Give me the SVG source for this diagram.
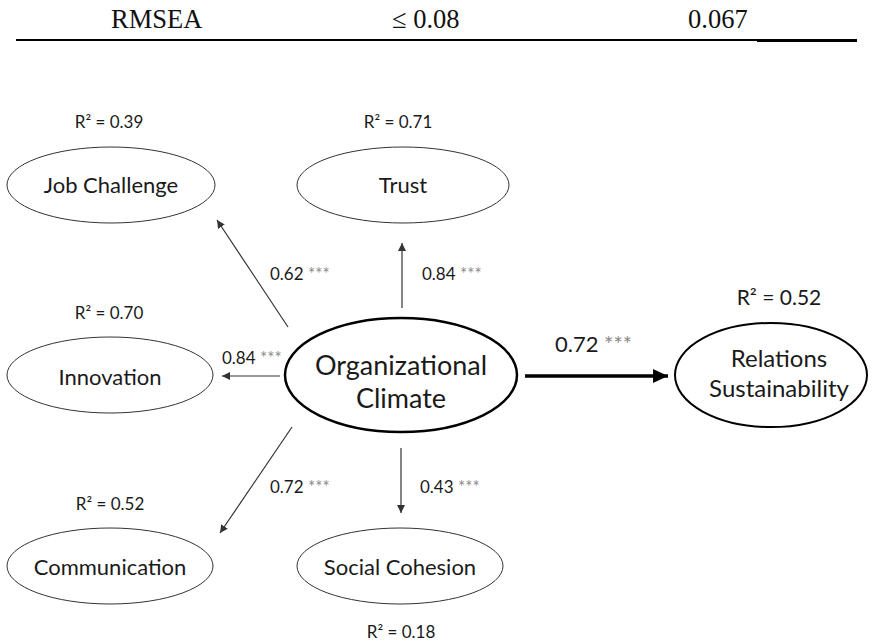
<svg xmlns="http://www.w3.org/2000/svg" width="873" height="644" viewBox="0 0 873 644">
<defs>
<style>
.tbl{font-family:"Liberation Serif","Times New Roman",serif;font-size:26.5px;fill:#111}
.lbl{font-family:Lato,"Open Sans",sans-serif;fill:#1a1a1a;text-anchor:middle}
.nd{font-size:22px}
.big{font-size:27px}
.r2{font-family:Lato,"Open Sans",sans-serif;font-size:17px;fill:#1a1a1a;text-anchor:middle}
.cf{font-family:Lato,"Open Sans",sans-serif;font-size:17px;fill:#1a1a1a}
.st{fill:#8a8a8a}
.thin{fill:#fff;stroke:#333;stroke-width:1}
.bold{fill:#fff;stroke:#000;stroke-width:2.5}
.ar{stroke:#333;stroke-width:1.2;fill:none;marker-end:url(#ah)}
</style>
<marker id="ah" markerUnits="userSpaceOnUse" markerWidth="10" markerHeight="8" refX="8" refY="4" orient="auto">
<path d="M0,0 L8,4 L0,8 Z" fill="#333"/>
</marker>
<marker id="ahb" markerUnits="userSpaceOnUse" markerWidth="16" markerHeight="14" refX="15" refY="7" orient="auto">
<path d="M0,0 L15,7 L0,14 Z" fill="#000"/>
</marker>
</defs>
<rect width="873" height="644" fill="#fff"/>
<g id="table">
<text class="tbl" x="111" y="28">RMSEA</text>
<text class="tbl" x="392" y="28">≤ 0.08</text>
<text class="tbl" x="688" y="28">0.067</text>
<line x1="16" y1="40" x2="857" y2="40" stroke="#000" stroke-width="1.8"/>
<line x1="757" y1="40.5" x2="857" y2="40.5" stroke="#000" stroke-width="3"/>
</g>
<g id="connectors">
<line class="ar" x1="288" y1="327" x2="217" y2="220"/>
<line class="ar" x1="402" y1="308" x2="402" y2="243"/>
<line class="ar" x1="280" y1="376" x2="222" y2="376"/>
<line class="ar" x1="292" y1="427" x2="220" y2="533"/>
<line class="ar" x1="401" y1="448" x2="401" y2="513"/>
<line x1="525" y1="376" x2="668" y2="376" stroke="#000" stroke-width="3.5" marker-end="url(#ahb)"/>
<text class="cf" x="270" y="280">0.62 <tspan class="st">***</tspan></text>
<text class="cf" x="422" y="280">0.84 <tspan class="st">***</tspan></text>
<text class="cf" x="222" y="364">0.84 <tspan class="st">***</tspan></text>
<text class="cf" x="270" y="493">0.72 <tspan class="st">***</tspan></text>
<text class="cf" x="420" y="493">0.43 <tspan class="st">***</tspan></text>
<text class="cf" x="555" y="352" style="font-size:22px">0.72 <tspan class="st">***</tspan></text>
</g>
<g id="job-challenge">
<text class="r2" x="109" y="128">R² = 0.39</text>
<ellipse class="thin" cx="111" cy="185" rx="104" ry="38"/>
<text class="lbl nd" x="111" y="193">Job Challenge</text>
</g>
<g id="trust">
<text class="r2" x="398" y="128">R² = 0.71</text>
<ellipse class="thin" cx="403" cy="185" rx="106" ry="38"/>
<text class="lbl nd" x="403" y="193">Trust</text>
</g>
<g id="innovation">
<text class="r2" x="109" y="319">R² = 0.70</text>
<ellipse class="thin" cx="110" cy="375" rx="103" ry="38"/>
<text class="lbl nd" x="110" y="385">Innovation</text>
</g>
<g id="organizational-climate">
<ellipse class="bold" cx="401" cy="375" rx="116" ry="57"/>
<text class="lbl big" x="401" y="375">Organizational</text>
<text class="lbl big" x="401" y="408">Climate</text>
</g>
<g id="relations-sustainability">
<text class="r2" x="779" y="305" style="font-size:21px">R² = 0.52</text>
<ellipse fill="#fff" stroke="#000" stroke-width="2" cx="771" cy="375" rx="96" ry="52"/>
<text class="lbl" x="779" y="367" style="font-size:24px">Relations</text>
<text class="lbl" x="779" y="397" style="font-size:24px">Sustainability</text>
</g>
<g id="communication">
<text class="r2" x="110" y="510">R² = 0.52</text>
<ellipse class="thin" cx="110" cy="566" rx="103" ry="38"/>
<text class="lbl nd" x="110" y="575">Communication</text>
</g>
<g id="social-cohesion">
<ellipse class="thin" cx="400" cy="566" rx="103" ry="38"/>
<text class="lbl nd" x="400" y="575">Social Cohesion</text>
<text class="r2" x="401" y="638">R² = 0.18</text>
</g>
</svg>
